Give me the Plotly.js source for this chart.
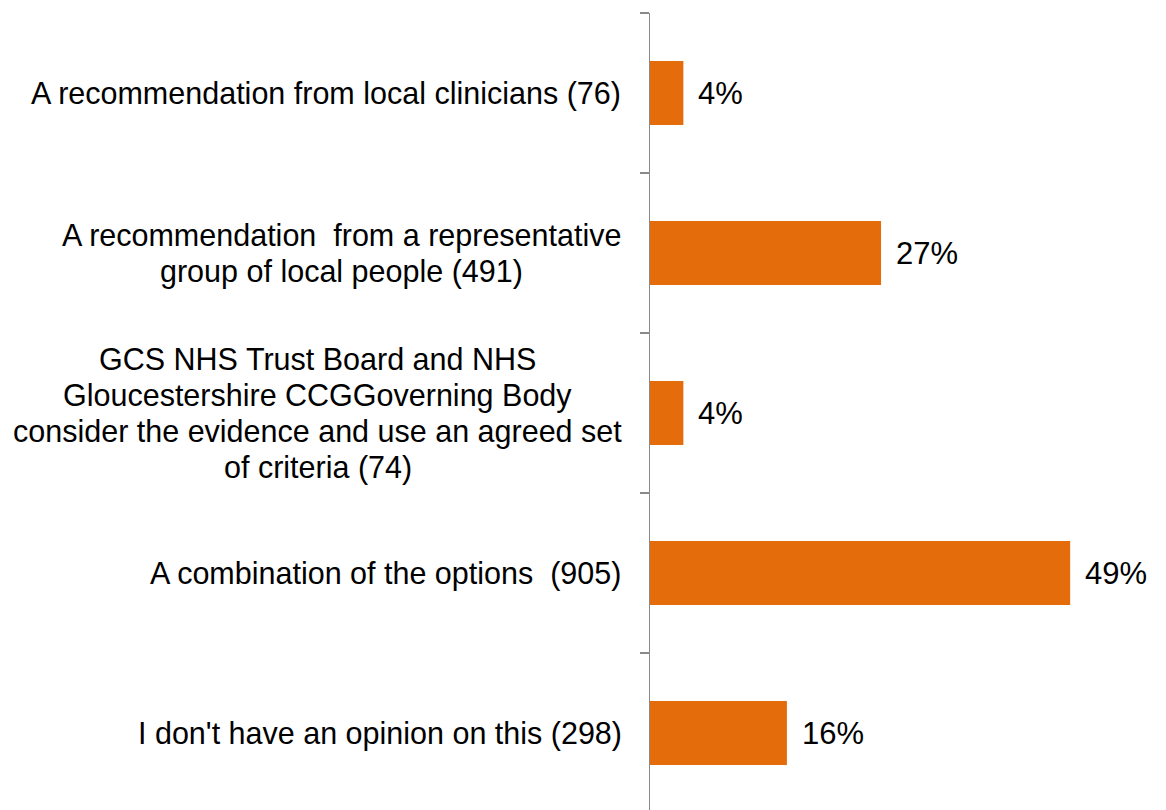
<!DOCTYPE html>
<html>
<head>
<meta charset="utf-8">
<script src="https://cdn.plot.ly/plotly-3.0.1.min.js"></script>
<style>html,body{margin:0;padding:0;background:#fff;}#chart{width:1166px;height:810px;}</style>
</head>
<body>
<div id="chart"></div>
<script>
// Data
var categories = [
  "A recommendation from local clinicians (76)",
  "A recommendation  from a representative<br>group of local people (491)",
  "GCS NHS Trust Board and NHS<br>Gloucestershire CCGGoverning Body<br>consider the evidence and use an agreed set<br>of criteria (74)",
  "A combination of the options  (905)",
  "I don't have an opinion on this (298)"
];
var percentValues = [3.9, 27.0, 3.9, 49.1, 16.0];
var valueLabels = ["4%", "27%", "4%", "49%", "16%"];

var FONT = '"Liberation Sans", Arial, sans-serif';
var FS = 30.5;
var LINE = 36;

var ctx = document.createElement('canvas').getContext('2d');
ctx.font = FS + 'px "Liberation Sans", Arial, sans-serif';
function textWidth(s) { return ctx.measureText(s.replace(/&nbsp;/g, ' ')).width; }

var trace = {
  type: 'bar',
  orientation: 'h',
  x: percentValues,
  y: categories,
  marker: {color: '#E46C0A'},
  hoverinfo: 'skip'
};

var annotations = [];
// category labels: one annotation per line, lines centred on the widest line
categories.forEach(function (cat) {
  var lines = cat.split('<br>');
  var n = lines.length;
  var maxW = Math.max.apply(null, lines.map(textWidth));
  lines.forEach(function (ln, i) {
    annotations.push({
      xref: 'paper', yref: 'y',
      x: 0, y: cat,
      text: ln,
      showarrow: false,
      xanchor: 'center', yanchor: 'middle',
      align: 'center',
      xshift: -28 - maxW / 2,
      yshift: ((n - 1) / 2 - i) * LINE,
      font: {family: FONT, size: FS, color: '#000'}
    });
  });
});
// value labels
percentValues.forEach(function (v, i) {
  annotations.push({
    xref: 'x', yref: 'y',
    x: v, y: categories[i],
    text: valueLabels[i],
    showarrow: false,
    xanchor: 'left', yanchor: 'middle',
    xshift: 13,
    font: {family: FONT, size: FS + 0.5, color: '#000'}
  });
});

var layout = {
  width: 1166, height: 810,
  margin: {l: 650, r: 0, t: 13, b: 0, pad: 0},
  paper_bgcolor: '#fff', plot_bgcolor: '#fff',
  showlegend: false,
  bargap: 0.6,
  font: {family: FONT, size: FS, color: '#000'},
  xaxis: {
    range: [0, 60.3], autorange: false,
    visible: false, showgrid: false, zeroline: false
  },
  yaxis: {
    type: 'category',
    range: [4.48125, -0.5], autorange: false,
    showticklabels: false,
    showgrid: false, zeroline: false,
    showline: true, linecolor: '#8a8a8a', linewidth: 1.5,
    ticks: 'outside', tickson: 'boundaries', ticklen: 9,
    tickcolor: '#8a8a8a', tickwidth: 1.5
  },
  annotations: annotations
};

Plotly.newPlot('chart', [trace], layout, {displayModeBar: false, staticPlot: true});
</script>
</body>
</html>
